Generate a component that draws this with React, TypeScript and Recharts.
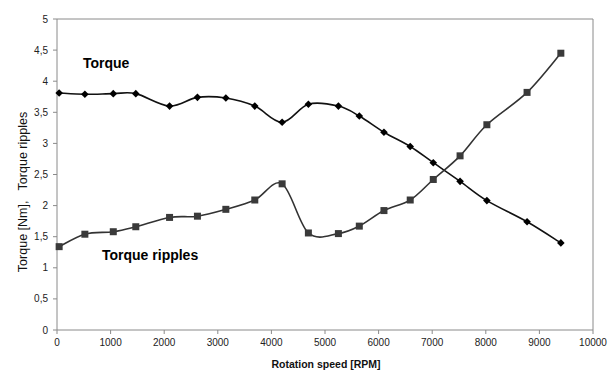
import { LineChart, Line, XAxis, YAxis, ReferenceLine } from 'recharts'

const rpm = [40, 520, 1050, 1470, 2100, 2620, 3150, 3690, 4200, 4690, 5250, 5640, 6100, 6590, 7020, 7520, 8020, 8770, 9400]
const torque = [3.81, 3.79, 3.8, 3.8, 3.6, 3.74, 3.73, 3.6, 3.34, 3.63, 3.6, 3.44, 3.18, 2.95, 2.69, 2.39, 2.08, 1.74, 1.4]
const ripples = [1.34, 1.54, 1.58, 1.66, 1.81, 1.83, 1.94, 2.09, 2.35, 1.56, 1.55, 1.67, 1.92, 2.09, 2.42, 2.8, 3.3, 3.82, 4.45]

const xTicks = [0, 1000, 2000, 3000, 4000, 5000, 6000, 7000, 8000, 9000, 10000]
const yTicks = [0, 0.5, 1, 1.5, 2, 2.5, 3, 3.5, 4, 4.5, 5]

const data = rpm.map((r, i) => ({ rpm: r, torque: torque[i], ripples: ripples[i] }))

const FONT = '"Liberation Sans", Arial, sans-serif'
const AXIS = '#8a8a8a'

// excel style smoothing (catmull-rom through the points)
const smooth = (ctx: any) => {
  let pts: number[][] = []
  return {
    areaStart() {},
    areaEnd() {},
    lineStart() { pts = [] },
    point(x: number, y: number) { pts.push([+x, +y]) },
    lineEnd() {
      if (!pts.length) return
      ctx.moveTo(pts[0][0], pts[0][1])
      for (let i = 0; i < pts.length - 1; i++) {
        const p0 = pts[Math.max(0, i - 1)]
        const p1 = pts[i]
        const p2 = pts[i + 1]
        const p3 = pts[Math.min(pts.length - 1, i + 2)]
        ctx.bezierCurveTo(
          p1[0] + (p2[0] - p0[0]) / 6, p1[1] + (p2[1] - p0[1]) / 6,
          p2[0] - (p3[0] - p1[0]) / 6, p2[1] - (p3[1] - p1[1]) / 6,
          p2[0], p2[1]
        )
      }
    },
  }
}

const Diamond = (props: any) => {
  const { cx, cy, index } = props
  const s = 3.8
  return <path key={`d-${index}`} d={`M${cx},${cy - s}L${cx + s},${cy}L${cx},${cy + s}L${cx - s},${cy}Z`} fill="#000" />
}

const Square = (props: any) => {
  const { cx, cy, index } = props
  const s = 3.5
  return <rect key={`s-${index}`} x={cx - s} y={cy - s} width={s * 2} height={s * 2} fill="#3a3a3a" />
}

const fmt = (v: number) => String(v).replace('.', ',')

export default function App() {
  return (
    <div style={{ position: 'absolute', left: 0, top: 0, background: '#fff' }}>
      <LineChart width={614} height={370} data={data} margin={{ top: 19, right: 21, bottom: 10, left: 0 }}>
        <XAxis
          dataKey="rpm"
          type="number"
          domain={[0, 10000]}
          ticks={xTicks}
          height={30}
          stroke={AXIS}
          tickSize={4}
          tickMargin={5}
          tick={{ fill: '#222', fontSize: 10, fontFamily: FONT }}
        />
        <YAxis
          type="number"
          domain={[0, 5]}
          ticks={yTicks}
          width={57}
          stroke={AXIS}
          tickSize={4}
          tickMargin={5}
          tickFormatter={fmt}
          tick={{ fill: '#222', fontSize: 10, fontFamily: FONT }}
        />
        <ReferenceLine y={5} stroke={AXIS} />
        <ReferenceLine x={10000} stroke={AXIS} />
        <Line
          dataKey="torque"
          type={smooth as any}
          stroke="#111"
          strokeWidth={1.6}
          dot={Diamond}
          activeDot={false}
          isAnimationActive={false}
        />
        <Line
          dataKey="ripples"
          type={smooth as any}
          stroke="#333"
          strokeWidth={1.6}
          dot={Square}
          activeDot={false}
          isAnimationActive={false}
        />
        <text x={83} y={68} fontFamily={FONT} fontSize={14} fontWeight="bold" fill="#000">Torque</text>
        <text x={102} y={260} fontFamily={FONT} fontSize={14} fontWeight="bold" fill="#000">Torque ripples</text>
        <text
          transform="rotate(-90)"
          x={-192}
          y={27}
          textAnchor="middle"
          fontFamily={FONT}
          fontSize={12.5}
          fill="#111"
          style={{ whiteSpace: 'pre' }}
        >
          {'Torque [Nm],   Torque ripples'}
        </text>
        <text x={326} y={368} textAnchor="middle" fontFamily={FONT} fontSize={10.5} fontWeight="bold" fill="#111">
          Rotation speed [RPM]
        </text>
      </LineChart>
    </div>
  )
}
